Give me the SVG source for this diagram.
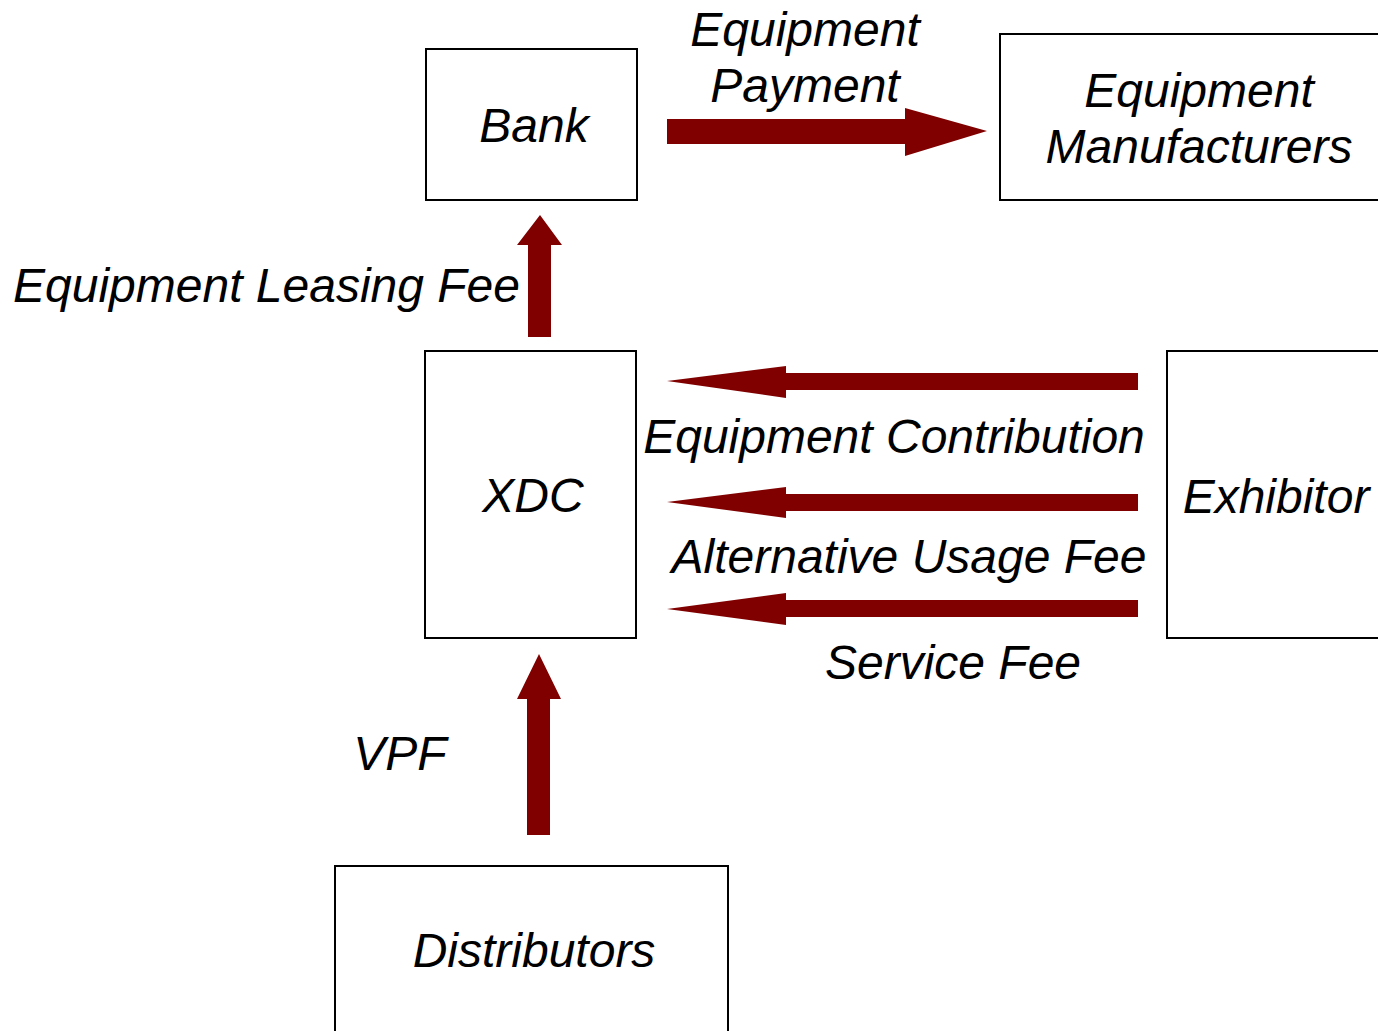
<svg xmlns="http://www.w3.org/2000/svg" width="1378" height="1031" viewBox="0 0 1378 1031">
<style>
.box{fill:#fff;stroke:#000;stroke-width:2}
.t{font-family:"Liberation Sans",Arial,sans-serif;font-style:italic;font-size:48px;fill:#000}
.m{text-anchor:middle}
.arr{fill:#800000}
</style>
<rect width="1378" height="1031" fill="#fff"/>
<g id="bank"><rect class="box" x="426" y="49" width="211" height="151"/><text class="t m" x="534" y="142">Bank</text></g>
<g id="manufacturers"><rect class="box" x="1000" y="34" width="390" height="166"/><text class="t m" x="1199" y="107">Equipment</text><text class="t m" x="1199" y="163">Manufacturers</text></g>
<g id="xdc"><rect class="box" x="425" y="351" width="211" height="287"/><text class="t m" x="533" y="512">XDC</text></g>
<g id="exhibitor"><rect class="box" x="1167" y="351" width="223" height="287"/><text class="t m" x="1276" y="513">Exhibitor</text></g>
<g id="distributors"><rect class="box" x="335" y="866" width="393" height="180"/><text class="t m" x="534" y="967">Distributors</text></g>
<g id="connectors">
<polygon class="arr" points="667,119 905,119 905,108 987,131 905,156 905,144 667,144"/>
<polygon class="arr" points="528,337 528,245 517,245 540,215 562,245 551,245 551,337"/>
<polygon class="arr" points="1138,373 786,373 786,366 667,381 786,398 786,390 1138,390"/>
<polygon class="arr" points="1138,494 786,494 786,487 667,502 786,518 786,511 1138,511"/>
<polygon class="arr" points="1138,600 786,600 786,593 667,609 786,625 786,617 1138,617"/>
<polygon class="arr" points="527,835 527,699 517,699 539,654 561,699 550,699 550,835"/>
<text class="t m" x="805" y="46">Equipment</text>
<text class="t m" x="805" y="102">Payment</text>
<text class="t" x="13" y="302">Equipment Leasing Fee</text>
<text class="t m" x="894" y="453">Equipment Contribution</text>
<text class="t m" x="909" y="573">Alternative Usage Fee</text>
<text class="t m" x="953" y="679">Service Fee</text>
<text class="t m" x="400" y="770">VPF</text>
</g>
</svg>
